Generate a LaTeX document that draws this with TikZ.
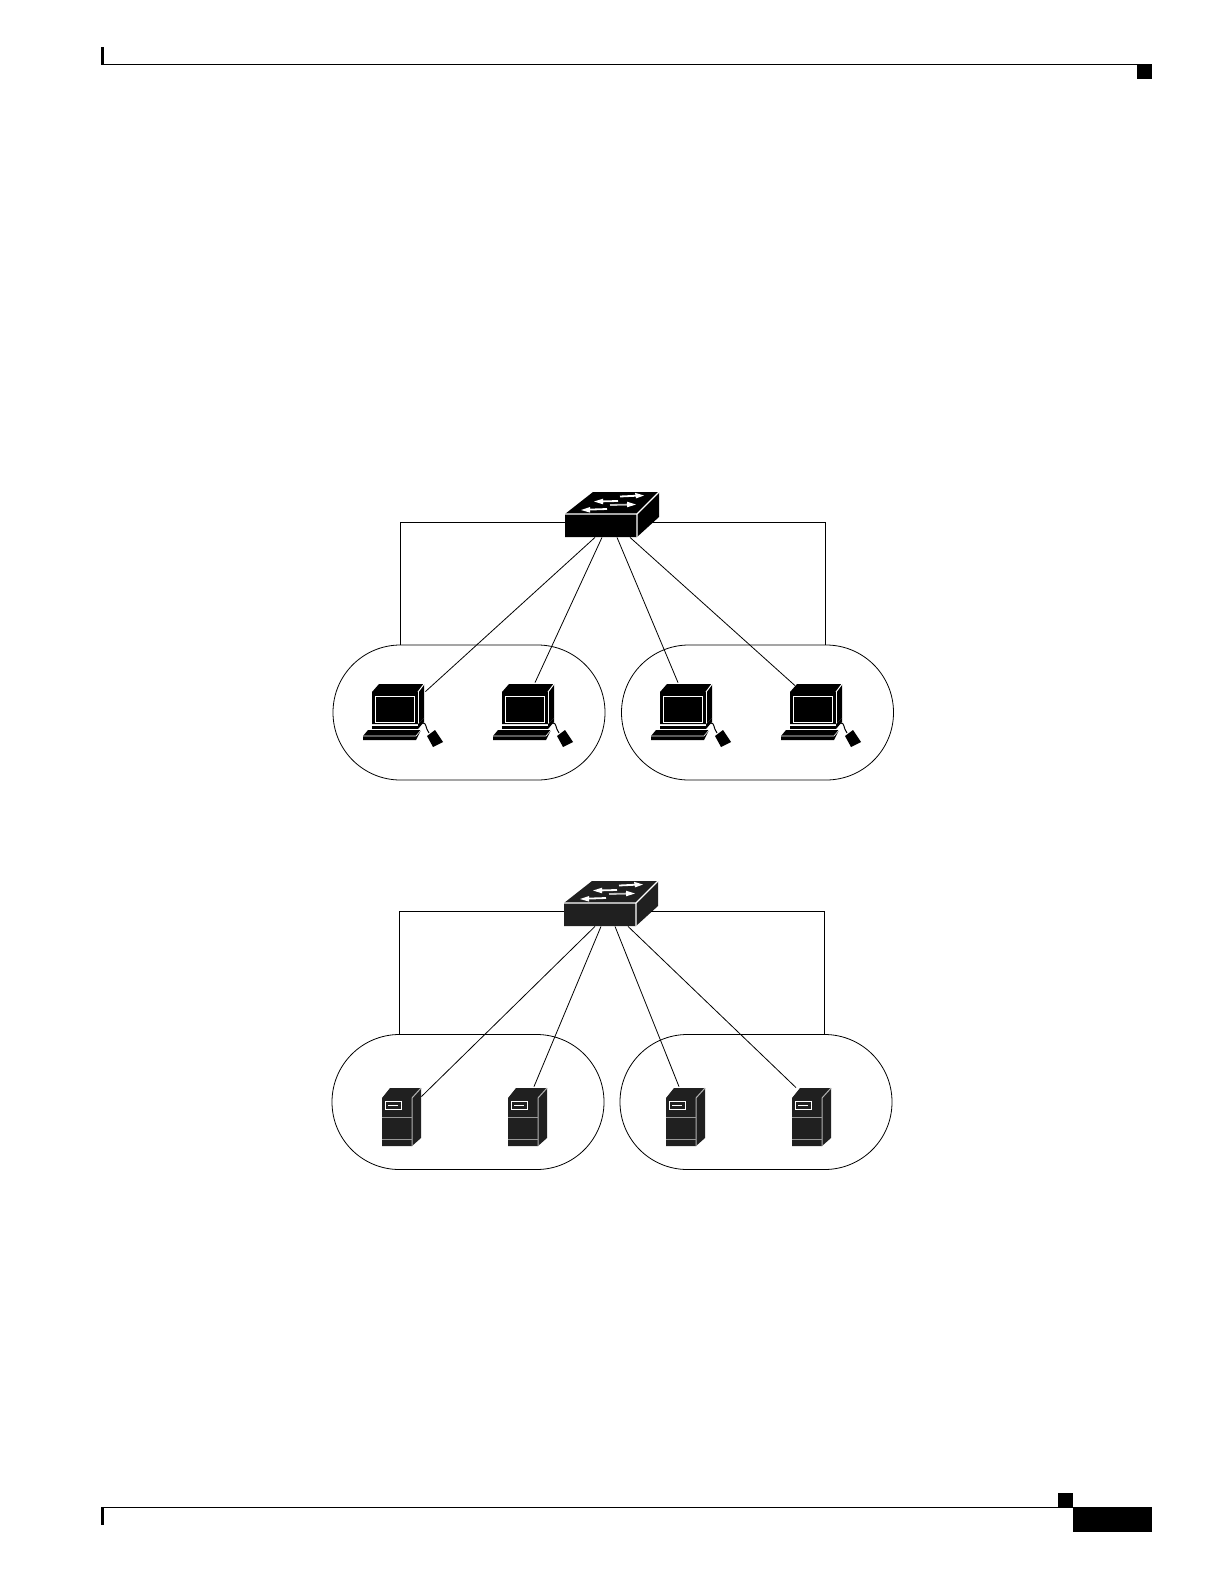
\documentclass[tikz,border=0pt]{standalone}
\usepackage{tikz}
\usetikzlibrary{positioning,calc}
\definecolor{softblack}{HTML}{202020}
\tikzset{
  link/.style={black,line width=0.4pt},
  blob/.style={draw,line width=0.4pt,minimum width=136pt,minimum height=67.5pt,rounded corners=33.7pt,inner sep=0pt},
  pics/switchicon/.style={code={
    \fill[#1] (0,22) -- (28,0) -- (94,0) -- (94,25) -- (72,45) -- (0,45) -- cycle;
    \node[fill=#1,inner sep=0pt,minimum width=36pt,minimum height=11.5pt] (-body) at (36,33.5) {};
    \draw[white,line width=0.6pt] (0,22) -- (72,22) -- (94,0) (72,22) -- (72,45);
    \draw[white,line width=0.9pt] (55,4.5) -- (72,3.7);
    \fill[white] (79,3.5) -- (70,0.8) -- (71,6.4) -- cycle;
    \draw[white,line width=0.9pt] (53,9) -- (37,9.4);
    \fill[white] (29,9.5) -- (38,6.7) -- (38,12.3) -- cycle;
    \draw[white!75!black,line width=0.9pt] (45,13) -- (63,12.6);
    \fill[white] (71,12.5) -- (62,9.7) -- (62,15.3) -- cycle;
    \draw[white,line width=0.9pt] (42,17) -- (24,17.6);
    \fill[white] (16,18) -- (25,15) -- (25,20.6) -- cycle;
  }},
  pics/pcicon/.style={code={
    \fill (0,8) -- (7,0) -- (52,0) -- (52,34) -- (46,40) -- (0,40) -- cycle;
    \node[fill=black,inner sep=0pt,minimum width=23pt,minimum height=16pt] (-mon) at (23,24) {};
    \draw[white,line width=0.5pt] (46,8) -- (52,0);
    \draw[white,line width=0.3pt] (46,8) -- (46,40);
    \draw[white,line width=0.45pt] (3,12) rectangle (42,38);
    \fill (0,41.5) rectangle (46,45);
    \fill (46,40) -- (52,34) -- (52,38) -- (46,45) -- cycle;
    \fill (-4,46) -- (49,46) -- (44,56) -- (-9,56) -- (-9,52) -- cycle;
    \draw[white,line width=0.3pt] (-9,52) -- (44,52) -- (49,46);
    \draw[line width=0.5pt] (50,39) .. controls (55,38) and (53,44) .. (57,49);
    \fill (55,52) -- (63,46) -- (71,58) -- (61,63) -- cycle;
  }},
  pics/servericon/.style={code={
    \fill[softblack] (0,10) -- (8,0) -- (39,0) -- (39,50) -- (30,58) -- (0,58) -- cycle;
    \node[fill=softblack,inner sep=0pt,minimum width=15pt,minimum height=24pt] (-body) at (15,34) {};
    \draw[white!70!black,line width=0.5pt] (30,10) -- (39,0) (30,10) -- (30,58);
    \draw[white,line width=0.5pt] (3,13) rectangle (19,21);
    \draw[white,line width=0.5pt] (6,17) -- (16,17);
    \draw[white!60!black,line width=0.3pt] (0,29) -- (30,29) (0,51) -- (30,51);
  }},
}
\begin{document}
\begin{tikzpicture}[x=0.5pt,y=-0.5pt]
\useasboundingbox (0,0) rectangle (1224,1584);
% page header and footer
\fill (101,47) rectangle (104,65);
\fill (101,64) rectangle (1137,65);
\fill (1137,64) rectangle (1152,79);
\fill (101,1507) rectangle (104,1525);
\fill (101,1507) rectangle (1058,1508);
\fill (1058,1493) rectangle (1073,1507.5);
\fill (1073,1507) rectangle (1152,1532);
% upper group
\node[blob] (grp1) at (469,712.5) {};
\node[blob] (grp2) at (757.5,712.5) {};
\pic (sw1) at (565,492) {switchicon=black};
\pic (pc1) at (372,684) {pcicon};
\pic (pc2) at (502,684) {pcicon};
\pic (pc3) at (660,684) {pcicon};
\pic (pc4) at (790,684) {pcicon};
\draw[link] ([yshift=1.75pt]sw1-body.west) -| ([xshift=-34.5pt]grp1.north);
\draw[link] ([xshift=7.5pt,yshift=1.75pt]sw1-body.east) -| ([xshift=33.75pt]grp2.north);
\draw[link] ([xshift=-3pt]sw1-body.south) -- ([xshift=3.5pt]pc1-mon.north east);
\draw[link] ([xshift=0.5pt]sw1-body.south) -- ([xshift=5pt,yshift=4.5pt]pc2-mon.north);
\draw[link] ([xshift=8pt]sw1-body.south) -- ([xshift=-2.5pt,yshift=4.5pt]pc3-mon.north);
\draw[link] ([xshift=14.5pt]sw1-body.south) -- ([xshift=-9pt,yshift=3pt]pc4-mon.north);
% lower group
\node[blob] (grp3) at (468,1102) {};
\node[blob] (grp4) at (756,1102) {};
\pic (sw2) at (564,881) {switchicon=softblack};
\pic (srv1) at (382,1088) {servericon};
\pic (srv2) at (508,1088) {servericon};
\pic (srv3) at (666,1088) {servericon};
\pic (srv4) at (792,1088) {servericon};
\draw[link] ([yshift=1.75pt]sw2-body.west) -| ([xshift=-34.5pt]grp3.north);
\draw[link] ([xshift=7.5pt,yshift=1.75pt]sw2-body.east) -| ([xshift=34pt]grp4.north);
\draw[link] ([xshift=-2.5pt]sw2-body.south) -- ([xshift=4.5pt,yshift=0.5pt]srv1-body.north east);
\draw[link] ([xshift=0.5pt]sw2-body.south) -- ([xshift=5.5pt,yshift=5.5pt]srv2-body.north);
\draw[link] ([xshift=7.5pt]sw2-body.south) -- ([xshift=-1pt,yshift=5.5pt]srv3-body.north);
\draw[link] ([xshift=14pt]sw2-body.south) -- ([xshift=-5.5pt,yshift=5pt]srv4-body.north);
\end{tikzpicture}
\end{document}
